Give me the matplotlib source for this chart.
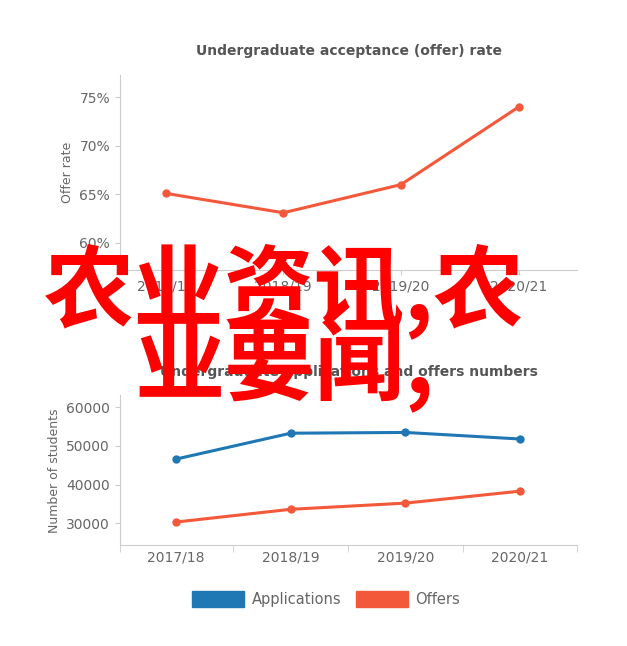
import matplotlib
matplotlib.use("Agg")
import matplotlib.pyplot as plt
from matplotlib.patches import Patch

years = ["2017/18", "2018/19", "2019/20", "2020/21"]
offer_rate = [65.1, 63.1, 66.0, 74.0]
applications = [46600, 53300, 53500, 51800]
offers = [30300, 33600, 35200, 38300]
blue = "#1f77b4"
orange = "#f4583a"
grey = "#666666"

fig = plt.figure(figsize=(6.27, 6.46), dpi=100)
ax1 = fig.add_axes([0.191, 0.582, 0.730, 0.302])
ax2 = fig.add_axes([0.191, 0.156, 0.730, 0.232])

def style(ax):
    for s in ["top", "right"]:
        ax.spines[s].set_visible(False)
    for s in ["left", "bottom"]:
        ax.spines[s].set_color("#cccccc")
    ax.tick_params(colors="#cccccc", labelcolor=grey, labelsize=10)

x = range(len(years))
ax1.plot(x, offer_rate, color=orange, lw=2.2, marker="o", ms=5)
ax1.set_xlim(-0.39, 3.5)
ax1.set_ylim(57.2, 77.3)
ax1.set_yticks([60, 65, 70, 75])
ax1.set_yticklabels([f"{v}%" for v in [60, 65, 70, 75]])
ax1.set_xticks(list(x))
ax1.set_xticklabels(years)
ax1.set_ylabel("Offer rate", color=grey, fontsize=9)
ax1.set_title("Undergraduate acceptance (offer) rate", color="#555555", fontsize=10, fontweight="bold", pad=14)
style(ax1)

ax2.plot(x, applications, color=blue, lw=2.2, marker="o", ms=5)
ax2.plot(x, offers, color=orange, lw=2.2, marker="o", ms=5)
ax2.set_xlim(-0.49, 3.5)
ax2.set_ylim(24300, 63100)
ax2.set_yticks([30000, 40000, 50000, 60000])
ax2.set_xticks([-0.49, 0.5, 1.5, 2.5, 3.5], minor=True)
ax2.set_xticks(list(x))
ax2.set_xticklabels(years)
ax2.tick_params(axis="x", which="major", length=0)
ax2.tick_params(axis="x", which="minor", length=5, color="#cccccc")
ax2.set_ylabel("Number of students", color=grey, fontsize=9)
ax2.set_title("Undergraduate applications and offers numbers", color="#555555", fontsize=10, fontweight="bold", pad=14)
style(ax2)

handles = [Patch(color=blue, label="Applications"), Patch(color=orange, label="Offers")]
fig.legend(handles=handles, loc="center", bbox_to_anchor=(0.52, 0.073), ncol=2, frameon=False,
           handlelength=3.6, handleheight=1.3, handletextpad=0.5, fontsize=10.5, labelcolor=grey,
           columnspacing=1.0)

fig.text(0.07, 0.55, "农业资讯,农", fontsize=65, fontweight="bold", color="#ff0000",
         family=["Noto Sans CJK SC", "DejaVu Sans"], va="center")
fig.text(0.215, 0.435, "业要闻,", fontsize=65, fontweight="bold", color="#ff0000",
         family=["Noto Sans CJK SC", "DejaVu Sans"], va="center")

fig.savefig("out.png", dpi=100)
